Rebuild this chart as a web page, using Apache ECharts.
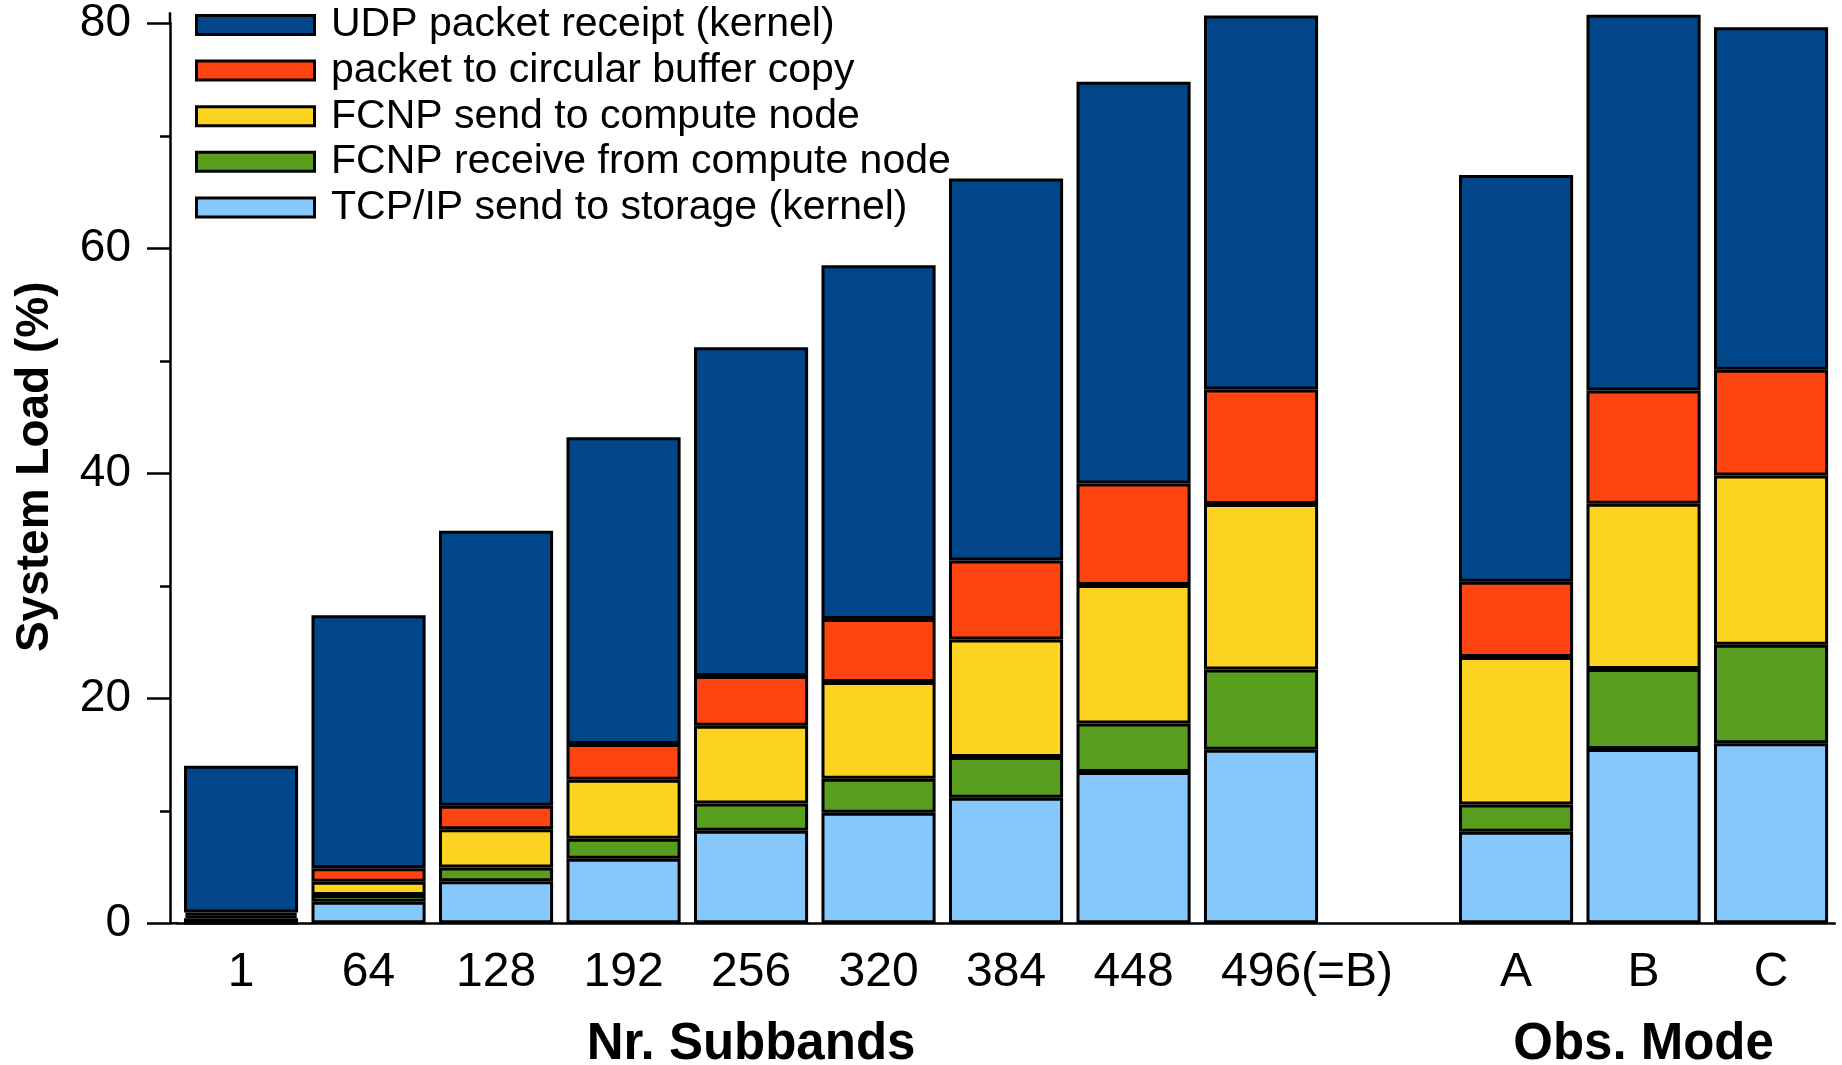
<!DOCTYPE html>
<html>
<head>
<meta charset="utf-8">
<script src="https://cdn.jsdelivr.net/npm/echarts@6/dist/echarts.min.js"></script>
<style>
html,body{margin:0;padding:0;background:#fff;}
#chart{width:1842px;height:1065px;}
</style>
</head>
<body>
<div id="chart"></div>
<script>
// ---- data ----
var categories = ['1','64','128','192','256','320','384','448','496(=B)','','A','B','C'];
var seriesNames = ['UDP packet receipt (kernel)','packet to circular buffer copy','FCNP send to compute node','FCNP receive from compute node','TCP/IP send to storage (kernel)'];
var tcpSend   = [0.00, 1.92, 3.74, 5.73, 8.22, 9.82, 11.17, 13.44, 15.42, '-', 8.14, 15.5, 16.0];
var fcnpRecv  = [0.45, 0.60, 1.22, 1.79, 2.44, 3.04, 3.61, 4.32, 7.14, '-', 2.41, 7.1, 8.75];
var fcnpSend  = [0.25, 1.18, 3.39, 5.25, 6.91, 8.58, 10.44, 12.32, 14.72, '-', 13.12, 14.7, 15.05];
var bufCopy   = [0.25, 1.19, 2.11, 3.17, 4.41, 5.6, 7.04, 9.02, 10.18, '-', 6.7, 10.07, 9.4];
var udpRecv   = [13.05, 22.5, 24.44, 27.26, 29.22, 31.46, 33.94, 35.7, 33.24, '-', 36.15, 33.38, 30.45];
var yTicks = [0, 20, 40, 60, 80];
var groupTitles = [{text:'Nr. Subbands', at:'256'}, {text:'Obs. Mode', at:'B'}];

var colors = ['#02468A', '#FF4411', '#FDD322', '#589D1D', '#86C8FC'];
var FONT = '"Liberation Sans", Arial, Helvetica, sans-serif';

var chart = echarts.init(document.getElementById('chart'));

function mkSeries(name, data, color) {
  return {
    name: name, type: 'bar', stack: 'load', data: data,
    barCategoryGap: '10.5%',
    clip: false,
    itemStyle: {color: color, borderColor: '#000', borderWidth: 3},
    emphasis: {disabled: true}
  };
}

var GRID_LEFT = 177.3, Y_OFFSET = 7.3;
var option = {
  animation: false,
  backgroundColor: '#fff',
  textStyle: {fontFamily: FONT, color: '#000'},
  grid: {left: GRID_LEFT, right: 7.2, top: 23.3, bottom: 141.7, containLabel: false},
  legend: {
    orient: 'vertical', left: 195, top: 4.5, padding: 0,
    data: seriesNames,
    itemWidth: 118, itemHeight: 19, itemGap: 4.6,
    icon: 'rect',
    itemStyle: {borderColor: '#000', borderWidth: 3},
    textStyle: {fontFamily: FONT, fontSize: 41, color: '#000', lineHeight: 40, padding: [0, 0, 0, 11.5]},
    selectedMode: false
  },
  xAxis: {
    type: 'category', data: categories,
    axisLine: {lineStyle: {color: '#000', width: 2.5}},
    axisTick: {show: false},
    axisLabel: {
      interval: 0, fontFamily: FONT, fontSize: 48, color: '#000', margin: 25,
      formatter: function (v) { return v === '496(=B)' ? '{p|}' + v : v; },
      rich: {p: {width: 92}}
    },
    splitLine: {show: false}
  },
  yAxis: {
    type: 'value', min: yTicks[0], max: yTicks[yTicks.length - 1], interval: 20,
    offset: Y_OFFSET,
    name: 'System Load (%)', nameLocation: 'middle', nameRotate: 90, nameGap: 112,
    nameTextStyle: {fontFamily: FONT, fontSize: 46, fontWeight: 'bold', color: '#000', padding: [0, 0, 0, 13]},
    axisLine: {show: true, lineStyle: {color: '#000', width: 2.5}},
    axisTick: {show: true, length: 23, lineStyle: {color: '#000', width: 2.5}},
    minorTick: {show: true, splitNumber: 2, length: 10, lineStyle: {color: '#000', width: 2.5}},
    axisLabel: {fontFamily: FONT, fontSize: 46, color: '#000', margin: 39},
    splitLine: {show: false}
  },
  series: [
    mkSeries(seriesNames[4], tcpSend, colors[4]),
    mkSeries(seriesNames[3], fcnpRecv, colors[3]),
    mkSeries(seriesNames[2], fcnpSend, colors[2]),
    mkSeries(seriesNames[1], bufCopy, colors[1]),
    mkSeries(seriesNames[0], udpRecv, colors[0])
  ]
};
chart.setOption(option);

// group titles and axis-line extensions positioned through the chart's own scales
var p0 = chart.convertToPixel({gridIndex: 0}, [0, 0]);
var p80 = chart.convertToPixel({gridIndex: 0}, [0, 80]);
var ax = GRID_LEFT - Y_OFFSET;
var graphics = [
  {type: 'line', shape: {x1: ax, y1: p0[1], x2: GRID_LEFT + 1, y2: p0[1]}, style: {stroke: '#000', lineWidth: 2.5}},
  {type: 'line', shape: {x1: ax, y1: p80[1] - 11, x2: ax, y2: p80[1]}, style: {stroke: '#000', lineWidth: 2.5}}
];
groupTitles.forEach(function (g) {
  var x = chart.convertToPixel({xAxisIndex: 0}, g.at);
  graphics.push({
    type: 'text', x: x, y: 1045,
    style: {text: g.text, font: 'bold 51px ' + FONT, fill: '#000', align: 'center', verticalAlign: 'middle'}
  });
});
chart.setOption({graphic: graphics});
</script>
</body>
</html>
